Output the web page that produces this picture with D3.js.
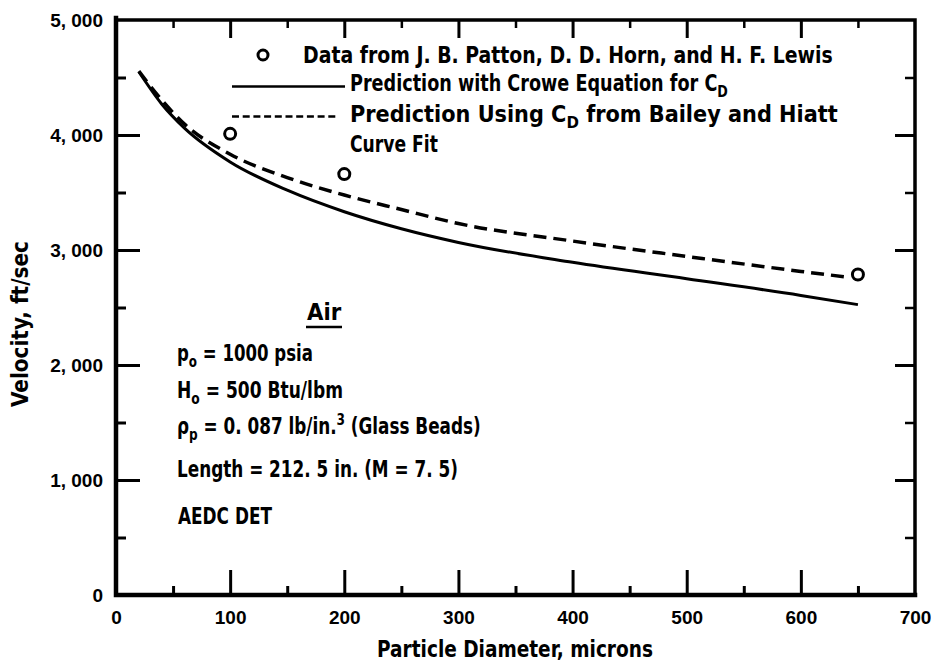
<!DOCTYPE html>
<html>
<head>
<meta charset="utf-8">
<script src="https://cdn.jsdelivr.net/npm/d3@7/dist/d3.min.js"></script>
<style>
  html, body { margin: 0; padding: 0; background: #fff; }
  svg { display: block; }
</style>
</head>
<body>
<svg id="chart" width="932" height="664"></svg>
<script>
// Particle velocity vs. particle diameter at the end of the accelerator
const xTickValues = [0, 100, 200, 300, 400, 500, 600, 700];
const xMinorValues = [50, 150, 250, 350, 450, 550, 650];
const yTickValues = [0, 1000, 2000, 3000, 4000, 5000];
const yMinorValues = [500, 1500, 2500, 3500, 4500];

// Prediction with Crowe equation for C_D (solid)
const croweDiameter = [20, 40, 60, 100, 150, 200, 250, 300, 400, 500, 600, 650];
const croweVelocity = [4550, 4270, 4060, 3766, 3520, 3333, 3185, 3066, 2893, 2750, 2605, 2525];

// Prediction using C_D from Bailey and Hiatt curve fit (dashed)
const baileyDiameter = [20, 40, 60, 100, 150, 200, 250, 300, 400, 500, 600, 640];
const baileyVelocity = [4555, 4305, 4095, 3833, 3630, 3478, 3352, 3230, 3078, 2944, 2814, 2765];

// Measured data (Patton, Horn and Lewis)
const dataDiameter = [100, 200, 650];
const dataVelocity = [4010, 3660, 2787];

const legendLabels = [
  "Data from J. B. Patton, D. D. Horn, and H. F. Lewis",
  "Prediction with Crowe Equation for C",
  "Prediction Using C",
  "Curve Fit"
];

const FONT = "'Liberation Sans Narrow', 'DejaVu Sans Condensed', 'Liberation Sans', sans-serif";
const TICK_FONT = "'Liberation Sans', 'DejaVu Sans', sans-serif";

const svg = d3.select("#chart");
svg.append("rect").attr("width", 932).attr("height", 664).attr("fill", "#fff");

const x = d3.scaleLinear().domain([0, 700]).range([116, 915]);
const y = d3.scaleLinear().domain([0, 5000]).range([595, 20]);

const fmt = d => d === 0 ? "0" : d3.format(",")(d).replace(",", ", ");

// tick marks pointing into the plot: each axis generator sits on the opposite
// edge's orientation so its ticks grow inward
function marks(axis, vals, len, w) {
  return g => {
    g.call(axis.tickValues(vals).tickSize(len).tickSizeOuter(0).tickFormat(""));
    g.select(".domain").remove();
    g.selectAll(".tick line").attr("stroke", "#000").attr("stroke-width", w);
  };
}
const inner = xTickValues.slice(1, -1), innerY = yTickValues.slice(1, -1);
svg.append("g").attr("transform", `translate(${x(0)},0)`).call(marks(d3.axisRight(y), innerY, 24, 3));
svg.append("g").attr("transform", `translate(${x(0)},0)`).call(marks(d3.axisRight(y), yMinorValues, 10, 3));
svg.append("g").attr("transform", `translate(${x(700)},0)`).call(marks(d3.axisLeft(y), innerY, 20, 3));
svg.append("g").attr("transform", `translate(${x(700)},0)`).call(marks(d3.axisLeft(y), yMinorValues, 10, 2.5));
svg.append("g").attr("transform", `translate(0,${y(0)})`).call(marks(d3.axisTop(x), inner, 25, 3));
svg.append("g").attr("transform", `translate(0,${y(0)})`).call(marks(d3.axisTop(x), xMinorValues, 9, 3));
svg.append("g").attr("transform", `translate(0,${y(5000)})`).call(marks(d3.axisBottom(x), inner, 18, 3));
svg.append("g").attr("transform", `translate(0,${y(5000)})`).call(marks(d3.axisBottom(x), xMinorValues, 8, 2.5));

// tick labels
function labelAxis(g) {
  g.select(".domain").remove();
  g.selectAll(".tick line").remove();
  g.selectAll(".tick text")
    .attr("font-family", TICK_FONT).attr("font-weight", "bold")
    .attr("font-size", 19).attr("fill", "#000");
}
svg.append("g").attr("transform", `translate(0,${y(0)})`)
  .call(d3.axisBottom(x).tickValues(xTickValues).tickSize(0).tickPadding(16).tickFormat(fmt))
  .call(labelAxis);
svg.append("g").attr("transform", `translate(${x(0)},0)`)
  .call(d3.axisLeft(y).tickValues(yTickValues).tickSize(0).tickPadding(13).tickFormat(fmt))
  .call(labelAxis);

// frame: left and bottom heavier than top and right
const heavy = d3.path();
heavy.moveTo(x(0), y(5000) - 2); heavy.lineTo(x(0), y(0)); heavy.lineTo(x(700), y(0));
svg.append("path").attr("d", heavy.toString())
  .attr("fill", "none").attr("stroke", "#000").attr("stroke-width", 4.5).attr("stroke-linecap", "square");
const light = d3.path();
light.moveTo(x(0), y(5000)); light.lineTo(x(700), y(5000)); light.lineTo(x(700), y(0));
svg.append("path").attr("d", light.toString())
  .attr("fill", "none").attr("stroke", "#000").attr("stroke-width", 3.5).attr("stroke-linecap", "square");

// rich text with sub/superscripts, stretched horizontally to a given width
function richText(parent, parts, size) {
  const t = parent.append("text")
    .attr("font-family", FONT).attr("font-weight", "bold")
    .attr("font-size", size).attr("fill", "#000");
  let shift = 0;
  parts.forEach(p => {
    const target = p.sub ? size * 0.28 : p.sup ? -size * 0.4 : 0;
    const ts = t.append("tspan").attr("dy", target - shift).text(p.t);
    if (p.sub || p.sup) ts.attr("font-size", size * 0.72);
    shift = target;
  });
  return t;
}
function place(t, x0, y0, width) {
  const k = width ? width / t.node().getBBox().width : 1;
  t.attr("transform", `translate(${x0},${y0}) scale(${k},1)`);
  return k;
}

// curves
const line = d3.line().x(d => x(d[0])).y(d => y(d[1])).curve(d3.curveMonotoneX);
svg.append("path")
  .datum(croweDiameter.map((d, i) => [d, croweVelocity[i]]))
  .attr("d", line).attr("fill", "none").attr("stroke", "#000").attr("stroke-width", 3);
svg.append("path")
  .datum(baileyDiameter.map((d, i) => [d, baileyVelocity[i]]))
  .attr("d", line).attr("fill", "none").attr("stroke", "#000").attr("stroke-width", 3.5)
  .attr("stroke-dasharray", "13,7");

// measured points
svg.selectAll("circle.pt")
  .data(dataDiameter.map((d, i) => [d, dataVelocity[i]]))
  .join("circle").attr("class", "pt")
  .attr("cx", d => x(d[0])).attr("cy", d => y(d[1])).attr("r", 5.5)
  .attr("fill", "#fff").attr("stroke", "#000").attr("stroke-width", 3);

// legend
const lg = svg.append("g");
lg.append("circle").attr("cx", 263).attr("cy", 55).attr("r", 5)
  .attr("fill", "#fff").attr("stroke", "#000").attr("stroke-width", 3);
place(richText(lg, [{ t: legendLabels[0] }], 23), 303, 63, 530);
lg.append("line").attr("x1", 232).attr("x2", 345).attr("y1", 86.5).attr("y2", 86.5)
  .attr("stroke", "#000").attr("stroke-width", 2.5);
place(richText(lg, [{ t: legendLabels[1] }, { t: "D", sub: true }], 23), 350, 91, 378);
lg.append("line").attr("x1", 232).attr("x2", 339).attr("y1", 116.5).attr("y2", 116.5)
  .attr("stroke", "#000").attr("stroke-width", 2.5).attr("stroke-dasharray", "7,3.7");
place(richText(lg, [{ t: legendLabels[2] }, { t: "D", sub: true }, { t: " from Bailey and Hiatt" }], 23), 350, 121.5, 488);
place(richText(lg, [{ t: legendLabels[3] }], 23), 350, 151.5, 88);

// test conditions
const ann = svg.append("g");
place(richText(ann, [{ t: "Air" }], 23), 307, 320, 35);
ann.append("line").attr("x1", 306).attr("x2", 342).attr("y1", 327).attr("y2", 327)
  .attr("stroke", "#000").attr("stroke-width", 2.5);
const k1 = place(richText(ann, [{ t: "p" }, { t: "o", sub: true }, { t: " = 1000 psia" }], 23), 177, 361, 136);
const k2 = place(richText(ann, [{ t: "H" }, { t: "o", sub: true }, { t: " = 500 Btu/lbm" }], 23), 177, 398, 166);
const k3 = place(richText(ann, [{ t: "Length = 212. 5 in.  (M = 7. 5)" }], 23), 177, 477, 281);
place(richText(ann, [{ t: "AEDC DET" }], 23), 178, 524, 94);
const rho = richText(ann, [{ t: "ρ" }, { t: "p", sub: true }, { t: " = 0. 087 lb/in." }, { t: "3", sup: true }, { t: " (Glass Beads)" }], 23);
rho.attr("transform", `translate(177,434) scale(${(k1 + k2 + k3) / 3},1)`);

// axis titles
const xt = richText(svg, [{ t: "Particle Diameter,  microns" }], 23).attr("text-anchor", "middle");
place(xt, 515, 657, 276);
const yt = richText(svg, [{ t: "Velocity,  ft/sec" }], 23).attr("text-anchor", "middle");
const ky = 166 / yt.node().getBBox().width;
yt.attr("transform", `translate(28,324) rotate(-90) scale(${ky},1)`);
</script>
</body>
</html>
